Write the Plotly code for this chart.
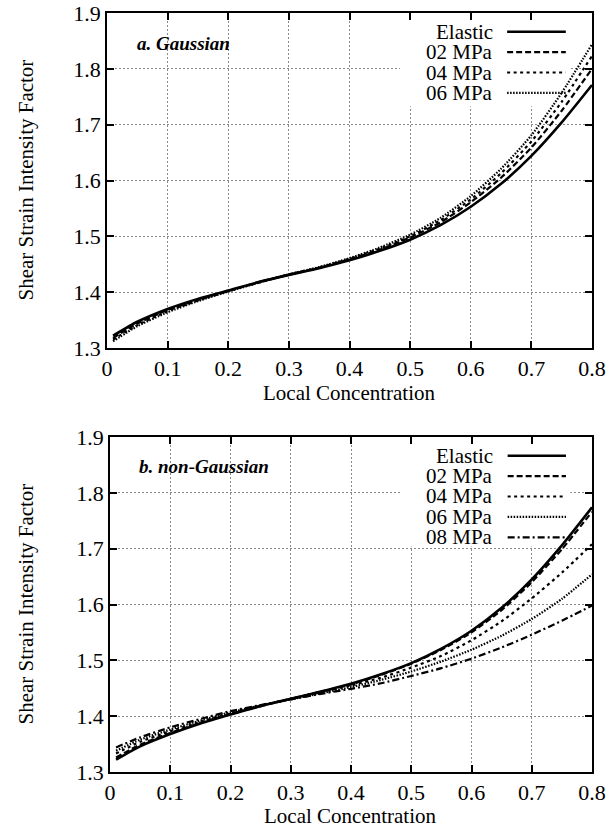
import plotly.graph_objects as go

# ---------------- data ----------------
conc = [0.01, 0.05, 0.1, 0.15, 0.2, 0.25, 0.3, 0.35, 0.4, 0.45, 0.5, 0.55, 0.6, 0.65, 0.7, 0.75, 0.8]

# a. Gaussian
gauss_elastic = [1.322, 1.347, 1.370, 1.388, 1.403, 1.418, 1.431, 1.443, 1.457, 1.474, 1.494, 1.520, 1.553, 1.594, 1.644, 1.704, 1.771]
gauss_02 = [1.318, 1.344, 1.368, 1.386, 1.402, 1.418, 1.431, 1.444, 1.459, 1.476, 1.498, 1.525, 1.561, 1.605, 1.659, 1.725, 1.800]
gauss_04 = [1.315, 1.341, 1.366, 1.385, 1.402, 1.417, 1.432, 1.444, 1.460, 1.478, 1.500, 1.529, 1.566, 1.613, 1.670, 1.741, 1.823]
gauss_06 = [1.312, 1.339, 1.364, 1.384, 1.401, 1.417, 1.432, 1.445, 1.461, 1.480, 1.503, 1.533, 1.572, 1.621, 1.681, 1.757, 1.844]

# b. non-Gaussian
ng_elastic = [1.322, 1.346, 1.368, 1.387, 1.403, 1.418, 1.431, 1.444, 1.458, 1.475, 1.495, 1.521, 1.553, 1.594, 1.645, 1.706, 1.774]
ng_02 = [1.326, 1.349, 1.370, 1.388, 1.404, 1.418, 1.431, 1.444, 1.457, 1.474, 1.494, 1.519, 1.550, 1.590, 1.640, 1.699, 1.766]
ng_04 = [1.333, 1.354, 1.373, 1.390, 1.405, 1.419, 1.431, 1.443, 1.455, 1.469, 1.487, 1.508, 1.536, 1.570, 1.611, 1.657, 1.708]
ng_06 = [1.338, 1.358, 1.376, 1.392, 1.407, 1.419, 1.430, 1.441, 1.452, 1.465, 1.480, 1.498, 1.519, 1.544, 1.574, 1.610, 1.654]
ng_08 = [1.344, 1.362, 1.380, 1.395, 1.409, 1.420, 1.430, 1.440, 1.449, 1.459, 1.472, 1.486, 1.503, 1.523, 1.546, 1.571, 1.598]

series_names = ["Elastic", "02 MPa", "04 MPa", "06 MPa", "08 MPa"]
x_ticks = [0, 0.1, 0.2, 0.3, 0.4, 0.5, 0.6, 0.7, 0.8]
y_ticks = [1.3, 1.4, 1.5, 1.6, 1.7, 1.8, 1.9]
panel_labels = ["a. Gaussian", "b. non-Gaussian"]
x_title = "Local Concentration"
y_title = "Shear Strain Intensity Factor"

# ---------------- styles ----------------
FONT = "Liberation Serif, Times New Roman, serif"
dashes = ["solid", "6px,3px", "3px,3.5px", "1.5px,1.5px", "7px,3px,2px,3px"]
widths = [2.6, 2.2, 2.2, 2.2, 2.2]

fig = go.Figure()

panels = [
    ("x", "y", [gauss_elastic, gauss_02, gauss_04, gauss_06]),
    ("x2", "y2", [ng_elastic, ng_02, ng_04, ng_06, ng_08]),
]

for xa, ya, data in panels:
    for i, ys in enumerate(data):
        fig.add_trace(go.Scatter(
            x=conc, y=ys, mode="lines", name=series_names[i],
            line=dict(color="black", width=widths[i], dash=dashes[i], shape="spline", smoothing=0.6),
            xaxis=xa, yaxis=ya, showlegend=False,
        ))

axis_common = dict(
    showline=True, linecolor="black", linewidth=1.6, mirror="ticks",
    ticks="inside", ticklen=7, tickwidth=1.5, tickcolor="black",
    showgrid=True, gridcolor="#8a8a8a", gridwidth=1, griddash="2px,2px",
    zeroline=False, automargin=False,
    tickfont=dict(family=FONT, size=22, color="black"),
)

dom_h = 335 / 759
fig.update_layout(
    template="none",
    width=616, height=827,
    margin=dict(l=107, r=24, t=13, b=55, autoexpand=False),
    paper_bgcolor="white", plot_bgcolor="white",
    showlegend=False,
    xaxis=dict(domain=[0, 1], range=[0, 0.8], tickvals=x_ticks,
               ticktext=[f"{v:g}" for v in x_ticks], anchor="y", **axis_common),
    yaxis=dict(domain=[1 - dom_h, 1], range=[1.3, 1.9], tickvals=y_ticks,
               ticktext=[f"{v:.1f}" for v in y_ticks], anchor="x", **axis_common),
    xaxis2=dict(domain=[3 / 485, 1], range=[0, 0.8], tickvals=x_ticks,
                ticktext=[f"{v:g}" for v in x_ticks], anchor="y2", **axis_common),
    yaxis2=dict(domain=[0, dom_h], range=[1.3, 1.9], tickvals=y_ticks,
                ticktext=[f"{v:.1f}" for v in y_ticks], anchor="x2", **axis_common),
)

shapes = []
annotations = []

# legend boxes (white, hides grid) in data units, + entries (text left of sample)
box_x = [0.483, 0.764]
box_ybottom = [1.733, 1.704]
for p, (xa, ya, data) in enumerate(panels):
    xd = "x domain" if xa == "x" else "x2 domain"
    yd = "y domain" if ya == "y" else "y2 domain"
    n = len(data)
    shapes.append(dict(type="rect", xref=xa, yref=ya, x0=box_x[0], x1=box_x[1],
                       y0=box_ybottom[p], y1=1.898, fillcolor="white",
                       line=dict(width=0), layer="between"))
    for i in range(n):
        yy = 1 - (18.7 + 20.4 * i) / 335
        annotations.append(dict(xref=xd, yref=yd, x=0.799, y=yy, xanchor="right",
                                yanchor="middle", showarrow=False, text=series_names[i],
                                font=dict(family=FONT, size=21, color="black")))
        shapes.append(dict(type="line", xref=xd, yref=yd, x0=0.825, x1=0.946,
                           y0=yy, y1=yy,
                           line=dict(color="black", width=widths[i], dash=dashes[i])))
    annotations.append(dict(xref=xd, yref=yd, x=0.057, y=1 - 30 / 335, xanchor="left",
                            yanchor="middle", showarrow=False,
                            text=f"<b><i>{panel_labels[p]}</i></b>",
                            font=dict(family=FONT, size=19, color="black")))

# axis titles
for yc in [1 - (180.5 - 13) / 759, 1 - (604.5 - 13) / 759]:
    annotations.append(dict(xref="paper", yref="paper", x=(25 - 107) / 485, y=yc,
                            xanchor="center", yanchor="middle", textangle=-90,
                            showarrow=False, text=y_title,
                            font=dict(family=FONT, size=21, color="black")))
for xc, yc in [(0.5, 1 - (393 - 13) / 759), (0.503, 1 - (816 - 13) / 759)]:
    annotations.append(dict(xref="paper", yref="paper", x=xc, y=yc,
                            xanchor="center", yanchor="middle",
                            showarrow=False, text=x_title,
                            font=dict(family=FONT, size=21, color="black")))

fig.update_layout(shapes=shapes, annotations=annotations)
fig.write_html("out.html")
